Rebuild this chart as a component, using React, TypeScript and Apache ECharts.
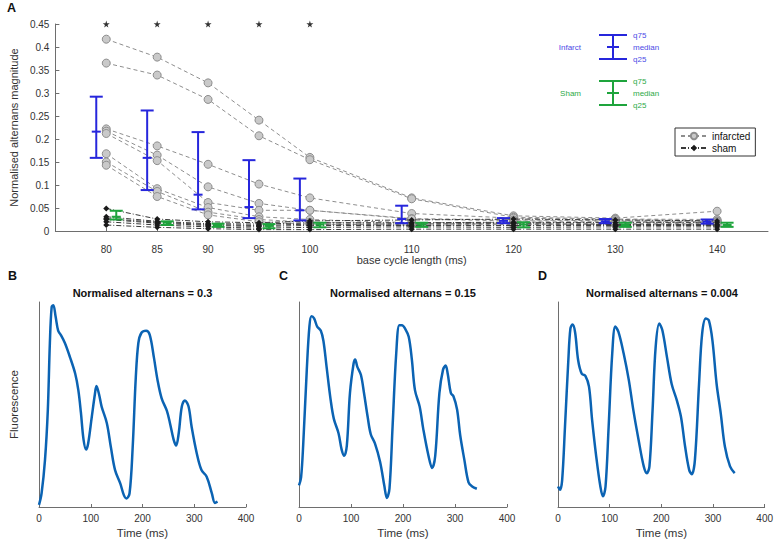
import React, { useEffect, useRef } from 'react';
import * as echarts from 'echarts';

const SANS = "'Liberation Sans', Arial, Helvetica, sans-serif";

// ---- Panel A data ----
const bcl = [80, 85, 90, 95, 100, 110, 120, 130, 140];
const bclTicks = [80, 85, 90, 95, 100, 110, 120, 130, 140];
const sigBcl = [80, 85, 90, 95, 100];
const sigLevel = 0.45;

const infarcted1 = [0.417, 0.378, 0.322, 0.241, 0.160, 0.072, 0.033, 0.028, 0.043];
const infarcted2 = [0.365, 0.339, 0.286, 0.207, 0.155, 0.070, 0.030, 0.026, 0.025];
const infarcted3 = [0.222, 0.185, 0.145, 0.102, 0.072, 0.038, 0.028, 0.025, 0.022];
const infarcted4 = [0.217, 0.165, 0.096, 0.060, 0.045, 0.027, 0.024, 0.022, 0.021];
const infarcted5 = [0.212, 0.153, 0.062, 0.045, 0.045, 0.026, 0.022, 0.021, 0.020];
const infarcted6 = [0.168, 0.092, 0.051, 0.031, 0.025, 0.018, 0.019, 0.019, 0.018];
const infarcted7 = [0.150, 0.086, 0.041, 0.025, 0.019, 0.016, 0.017, 0.016, 0.016];
const infarcted8 = [0.143, 0.075, 0.035, 0.020, 0.015, 0.013, 0.014, 0.014, 0.013];
const infarctedAll = [infarcted1, infarcted2, infarcted3, infarcted4, infarcted5, infarcted6, infarcted7, infarcted8];

const sham1 = [0.049, 0.026, 0.020, 0.018, 0.022, 0.024, 0.026, 0.024, 0.022];
const sham2 = [0.031, 0.021, 0.016, 0.015, 0.018, 0.018, 0.019, 0.018, 0.018];
const sham3 = [0.027, 0.019, 0.014, 0.012, 0.015, 0.015, 0.016, 0.014, 0.014];
const sham4 = [0.025, 0.017, 0.012, 0.010, 0.012, 0.012, 0.012, 0.012, 0.012];
const sham5 = [0.020, 0.013, 0.009, 0.006, 0.008, 0.009, 0.008, 0.009, 0.009];
const sham6 = [0.013, 0.008, 0.005, 0.003, 0.003, 0.004, 0.004, 0.004, 0.004];
const shamAll = [sham1, sham2, sham3, sham4, sham5, sham6];

const infQ75 = [0.292, 0.262, 0.215, 0.154, 0.114, 0.055, 0.028, 0.026, 0.025];
const infMed = [0.216, 0.159, 0.079, 0.052, 0.045, 0.026, 0.022, 0.021, 0.020];
const infQ25 = [0.159, 0.089, 0.047, 0.028, 0.023, 0.017, 0.017, 0.017, 0.016];

const shamQ75 = [0.044, 0.021, 0.016, 0.015, 0.018, 0.018, 0.019, 0.018, 0.018];
const shamMed = [0.031, 0.018, 0.013, 0.011, 0.014, 0.014, 0.014, 0.013, 0.013];
const shamQ25 = [0.025, 0.013, 0.009, 0.006, 0.008, 0.009, 0.008, 0.009, 0.009];

// ---- Panels B, C, D traces ----
const timeB = [0, 5, 11.6, 17, 21, 24.5, 27.7, 32, 37, 42, 50, 60, 70, 76, 81, 86, 91, 95, 102, 108, 111, 116, 121, 131, 139, 147, 157, 164, 169, 175, 181, 187, 192, 198, 207, 214, 222, 229, 237, 247, 253, 260, 265, 270, 276, 282, 289, 295, 305, 314, 324, 334, 340, 345];
const fluoB = [0.01, 0.067, 0.23, 0.47, 0.80, 0.976, 0.984, 0.93, 0.86, 0.84, 0.80, 0.73, 0.65, 0.57, 0.46, 0.33, 0.28, 0.31, 0.44, 0.55, 0.59, 0.55, 0.49, 0.41, 0.29, 0.18, 0.115, 0.058, 0.042, 0.067, 0.29, 0.63, 0.80, 0.85, 0.86, 0.84, 0.73, 0.62, 0.53, 0.47, 0.41, 0.33, 0.30, 0.36, 0.49, 0.52, 0.49, 0.39, 0.26, 0.18, 0.148, 0.067, 0.02, 0.026];

const timeC = [0, 4, 8, 15, 20, 24, 29, 35, 42, 47, 53, 61, 67, 76, 82, 87, 92, 98, 105, 108, 112, 119, 125, 132, 138, 146, 156, 164, 169, 174, 180, 187, 193, 198, 204, 211, 217, 223, 232, 239, 249, 256, 262, 270, 277, 282, 286, 292, 297, 304, 310, 318, 326, 333, 342];
const fluoC = [0.105, 0.145, 0.30, 0.67, 0.88, 0.93, 0.92, 0.88, 0.86, 0.81, 0.685, 0.52, 0.43, 0.36, 0.28, 0.25, 0.30, 0.556, 0.70, 0.72, 0.685, 0.645, 0.556, 0.44, 0.355, 0.31, 0.22, 0.105, 0.044, 0.09, 0.395, 0.75, 0.887, 0.887, 0.87, 0.83, 0.72, 0.57, 0.49, 0.38, 0.25, 0.19, 0.25, 0.556, 0.67, 0.69, 0.65, 0.556, 0.54, 0.476, 0.35, 0.23, 0.12, 0.10, 0.089];

const timeD = [0, 4, 8, 13.5, 20, 24, 28, 33, 39, 46, 53, 60, 66, 74, 82, 87, 92, 98, 105, 111, 117, 127, 137, 146, 156, 166, 172, 177, 183, 189, 196, 202, 211, 220, 230, 238, 246, 254, 259, 265, 273, 279, 286, 292, 299, 307, 315, 323, 333, 342];
const fluoD = [0.10, 0.084, 0.13, 0.39, 0.716, 0.87, 0.89, 0.854, 0.716, 0.65, 0.64, 0.587, 0.425, 0.246, 0.10, 0.052, 0.10, 0.39, 0.75, 0.88, 0.854, 0.75, 0.62, 0.47, 0.327, 0.198, 0.165, 0.198, 0.47, 0.78, 0.895, 0.862, 0.73, 0.60, 0.52, 0.44, 0.295, 0.18, 0.16, 0.23, 0.60, 0.846, 0.92, 0.91, 0.81, 0.60, 0.457, 0.295, 0.198, 0.165];

const panelTitles = ['Normalised alternans = 0.3', 'Normalised alternans = 0.15', 'Normalised alternans = 0.004'];
const timeTicks = [0, 100, 200, 300, 400];

const BLUE = '#2626dc';
const GREEN = '#1ea43c';
const TRACE = '#0b63b3';
const AXIS = '#6e6e6e';
const LABEL = '#333333';

function errRender(color: string, dx: number) {
  return (params: any, api: any) => {
    const x = api.value(0);
    const lo = api.coord([x, api.value(1)]);
    const md = api.coord([x, api.value(2)]);
    const hi = api.coord([x, api.value(3)]);
    const cx = lo[0] + dx;
    const style = { stroke: color, lineWidth: 2 };
    return {
      type: 'group',
      children: [
        { type: 'line', shape: { x1: cx, y1: lo[1], x2: cx, y2: hi[1] }, style },
        { type: 'line', shape: { x1: cx - 6.5, y1: lo[1], x2: cx + 6.5, y2: lo[1] }, style },
        { type: 'line', shape: { x1: cx - 6.5, y1: hi[1], x2: cx + 6.5, y2: hi[1] }, style },
        { type: 'line', shape: { x1: cx - 4.5, y1: md[1], x2: cx + 4.5, y2: md[1] }, style },
      ],
    };
  };
}

function keyGroup(color: string, textColor: string, label: string, yTop: number) {
  const cx = 613;
  const yMid = yTop + 12;
  const yBot = yTop + 24;
  const st = { stroke: color, lineWidth: 2 };
  const txt = (t: string, x: number, y: number, align: string) => ({
    type: 'text', x, y,
    style: { text: t, fill: textColor, fontSize: 8, fontFamily: SANS, align, verticalAlign: 'middle' },
  });
  return [
    { type: 'line', shape: { x1: cx, y1: yTop, x2: cx, y2: yBot }, style: st },
    { type: 'line', shape: { x1: cx - 14, y1: yTop, x2: cx + 14, y2: yTop }, style: st },
    { type: 'line', shape: { x1: cx - 14, y1: yBot, x2: cx + 14, y2: yBot }, style: st },
    { type: 'line', shape: { x1: cx - 6, y1: yMid, x2: cx + 6, y2: yMid }, style: st },
    txt(label, 581, yMid, 'right'),
    txt('q75', 633, yTop, 'left'),
    txt('median', 633, yMid, 'left'),
    txt('q25', 633, yBot, 'left'),
  ];
}

const STAR = 'path://M50,0 L61,35 L98,35 L68,57 L79,91 L50,70 L21,91 L32,57 L2,35 L39,35 Z';

function buildOption() {
  const grids = [
    { left: 40, top: 24, width: 728, height: 207 },
    { left: 39, top: 302, width: 207, height: 205 },
    { left: 299, top: 302, width: 208, height: 205 },
    { left: 558, top: 302, width: 208, height: 205 },
  ];

  const xAxes: any[] = [
    {
      gridIndex: 0, type: 'value', min: 75, max: 145, interval: 5,
      axisLine: { lineStyle: { color: AXIS } },
      axisTick: { inside: true, length: 3, customValues: bclTicks, lineStyle: { color: AXIS } },
      axisLabel: {
        customValues: bclTicks, color: LABEL, fontSize: 10, margin: 13, fontFamily: SANS,
        formatter: (v: number) => (bclTicks.indexOf(v) >= 0 ? String(v) : ''),
      },
      splitLine: { show: false },
      name: 'base cycle length (ms)', nameLocation: 'middle', nameGap: 17,
      nameTextStyle: { color: LABEL, fontSize: 11, fontFamily: SANS },
    },
  ];
  const yAxes: any[] = [
    {
      gridIndex: 0, type: 'value', min: 0, max: 0.45, interval: 0.05,
      axisLine: { show: true, lineStyle: { color: AXIS } },
      axisTick: { show: true, inside: true, length: 4, lineStyle: { color: AXIS } },
      axisLabel: { color: LABEL, fontSize: 10, margin: 6, fontFamily: SANS },
      splitLine: { show: false },
      name: 'Normalised alternans magnitude', nameLocation: 'middle', nameGap: 22,
      nameTextStyle: { color: LABEL, fontSize: 11, fontFamily: SANS },
    },
  ];
  for (let g = 1; g <= 3; g++) {
    xAxes.push({
      gridIndex: g, type: 'value', min: 0, max: 400, interval: 100,
      axisLine: { lineStyle: { color: AXIS } },
      axisTick: { inside: true, length: 3, lineStyle: { color: AXIS } },
      axisLabel: { color: LABEL, fontSize: 10, margin: 6, fontFamily: SANS, customValues: timeTicks },
      splitLine: { show: false },
      name: 'Time (ms)', nameLocation: 'middle', nameGap: 20,
      nameTextStyle: { color: LABEL, fontSize: 11.5, fontFamily: SANS },
    });
    yAxes.push({
      gridIndex: g, type: 'value', min: 0, max: 1,
      axisLine: { show: true, lineStyle: { color: AXIS } },
      axisTick: { show: false },
      axisLabel: { show: false },
      splitLine: { show: false },
      name: g === 1 ? 'Fluorescence' : '', nameLocation: 'middle', nameGap: 19,
      nameTextStyle: { color: LABEL, fontSize: 11.5, fontFamily: SANS },
    });
  }

  const series: any[] = [];
  infarctedAll.forEach((row) => {
    series.push({
      type: 'line', name: 'infarcted', xAxisIndex: 0, yAxisIndex: 0, z: 2,
      data: bcl.map((x, i) => [x, row[i]]),
      symbol: 'circle', symbolSize: 8,
      itemStyle: { color: '#c9c9c9', borderColor: '#8e8e8e', borderWidth: 1 },
      lineStyle: { color: '#8e8e8e', width: 1, type: [4, 3] },
    });
  });
  shamAll.forEach((row) => {
    series.push({
      type: 'line', name: 'sham', xAxisIndex: 0, yAxisIndex: 0, z: 3,
      data: bcl.map((x, i) => [x, row[i]]),
      symbol: 'diamond', symbolSize: 6,
      itemStyle: { color: '#1a1a1a' },
      lineStyle: { color: '#3a3a3a', width: 1, type: [5, 2, 1, 2] },
    });
  });
  series.push({
    type: 'custom', name: 'infarct quartiles', xAxisIndex: 0, yAxisIndex: 0, z: 5,
    renderItem: errRender(BLUE, -10),
    encode: { x: 0, y: [1, 2, 3] },
    data: bcl.map((x, i) => [x, infQ25[i], infMed[i], infQ75[i]]),
  });
  series.push({
    type: 'custom', name: 'sham quartiles', xAxisIndex: 0, yAxisIndex: 0, z: 5,
    renderItem: errRender(GREEN, 10),
    encode: { x: 0, y: [1, 2, 3] },
    data: bcl.map((x, i) => [x, shamQ25[i], shamMed[i], shamQ75[i]]),
  });
  series.push({
    type: 'scatter', name: 'significant', xAxisIndex: 0, yAxisIndex: 0, z: 6,
    symbol: STAR, symbolSize: 7, itemStyle: { color: '#000' },
    data: sigBcl.map((x) => [x, sigLevel]),
  });

  const traces = [[timeB, fluoB], [timeC, fluoC], [timeD, fluoD]];
  traces.forEach(([t, f], k) => {
    series.push({
      type: 'line', name: 'trace' + k, xAxisIndex: k + 1, yAxisIndex: k + 1,
      data: t.map((tt, i) => [tt, f[i]]),
      showSymbol: false, symbol: 'none', smooth: 0.35,
      lineStyle: { color: TRACE, width: 2.5 },
    });
  });

  const centers = [142.5, 403, 662];
  const letters = [
    { t: 'A', x: 7, y: 8 },
    { t: 'B', x: 8, y: 276 },
    { t: 'C', x: 279, y: 276 },
    { t: 'D', x: 538, y: 276 },
  ];
  const graphic: any[] = [];
  letters.forEach((l) => {
    graphic.push({
      type: 'text', x: l.x, y: l.y,
      style: { text: l.t, fill: '#111', fontSize: 12.5, fontWeight: 'bold', fontFamily: SANS, align: 'left', verticalAlign: 'middle' },
    });
  });
  panelTitles.forEach((t, k) => {
    graphic.push({
      type: 'text', x: centers[k], y: 293,
      style: { text: t, fill: '#111', fontSize: 11, fontWeight: 'bold', fontFamily: SANS, align: 'center', verticalAlign: 'middle' },
    });
  });
  graphic.push(...keyGroup(BLUE, '#4b4be6', 'Infarct', 35));
  graphic.push(...keyGroup(GREEN, '#2daa48', 'Sham', 81));

  return {
    animation: false,
    backgroundColor: '#fff',
    textStyle: { fontFamily: SANS },
    grid: grids,
    xAxis: xAxes,
    yAxis: yAxes,
    legend: {
      data: [{ name: 'infarcted' }, { name: 'sham' }],
      left: 675, top: 128, orient: 'vertical',
      borderColor: '#333', borderWidth: 1, padding: [3, 5, 3, 5], itemGap: 2,
      itemWidth: 26, itemHeight: 8,
      textStyle: { fontSize: 10, color: '#111', fontFamily: SANS },
    },
    graphic,
    series,
  };
}

export default function App() {
  const ref = useRef<HTMLDivElement>(null);
  useEffect(() => {
    const chart = echarts.init(ref.current as HTMLDivElement, null, { renderer: 'svg' });
    chart.setOption(buildOption() as any);
    return () => chart.dispose();
  }, []);
  return (
    <div
      ref={ref}
      style={{ position: 'fixed', left: 0, top: 0, width: 776, height: 543, background: '#fff' }}
    />
  );
}
